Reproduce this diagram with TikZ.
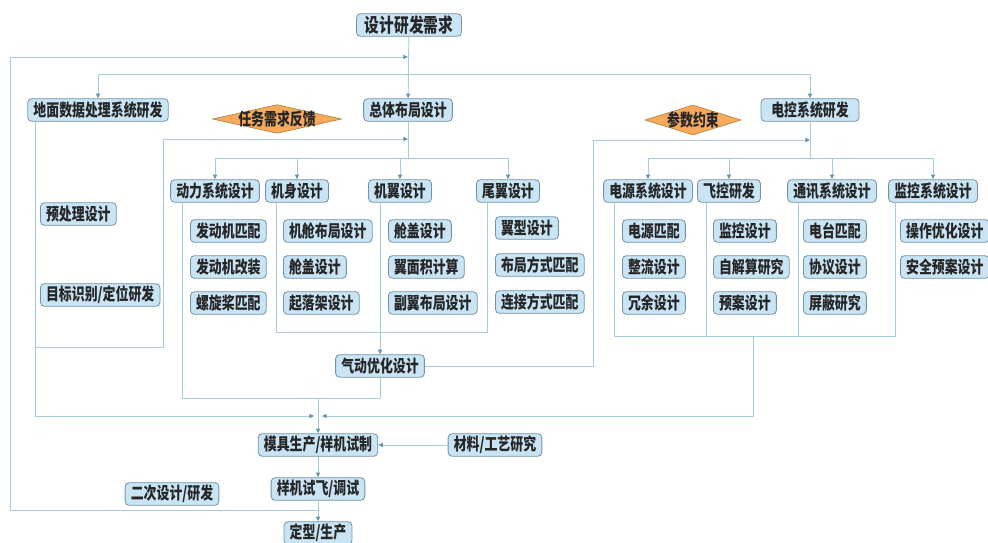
\documentclass[tikz,border=0pt]{standalone}
\usepackage{fontspec}
\setmainfont{Noto Sans CJK SC}[FakeStretch=0.76]
\usetikzlibrary{arrows.meta,shapes.geometric,calc}
\definecolor{boxfill}{HTML}{C9E5F5}
\definecolor{boxline}{HTML}{7393A7}
\definecolor{wirec}{HTML}{A7CCDA}
\definecolor{tipc}{HTML}{5E97B0}
\definecolor{diafill}{HTML}{F7A95C}
\definecolor{dialine}{HTML}{B9853F}
\tikzset{
  box/.style={draw=boxline, fill=boxfill, rounded corners=3.5pt, line width=0.7pt,
    minimum height=0.68cm, inner xsep=0.17cm, inner ysep=0pt,
    font=\fontsize{14.5}{16}\selectfont\bfseries, text=black!85},
  diam/.style={diamond, draw=dialine, fill=diafill, line width=0.6pt, inner sep=0pt},
  lbl/.style={font=\fontsize{14.5}{16}\selectfont\bfseries, text=black!85},
  wire/.style={draw=wirec, line width=0.8pt},
  arr/.style={wire, -{Triangle[length=4pt,width=3.5pt,color=tipc]}}
}
\begin{document}
\begin{tikzpicture}[x=0.03cm,y=-0.03cm]
  \useasboundingbox (0,0) rectangle (988,543);
  \node[box,minimum width=3.15cm,font=\fontsize{16.5}{18}\selectfont\bfseries] (need) at (409,25) {设计研发需求};
  \node[box] (zong) at (408,110) {总体布局设计};
  \node[box] (dimian) at (98,110) {地面数据处理系统研发};
  \node[box,minimum width=2.94cm] (dianko) at (810,110) {电控系统研发};
  \node[diam,minimum width=3.87cm,minimum height=0.86cm,label={[lbl]center:任务需求反馈}] (fankui) at (277,119) {};
  \node[diam,minimum width=2.88cm,minimum height=0.9cm,label={[lbl]center:参数约束}] (yueshu) at (693,120) {};
  \node[box,anchor=west] (yuchuli) at (40,214) {预处理设计};
  \node[box,anchor=west] (mubiao) at (40,295) {目标识别/定位研发};
  \node[box] (dongli) at (215,191) {动力系统设计};
  \node[box] (jishen) at (297,191) {机身设计};
  \node[box] (jiyi) at (400,191) {机翼设计};
  \node[box] (weiyi) at (508,191) {尾翼设计};
  \node[box] (dianyuan) at (648,191) {电源系统设计};
  \node[box] (feikong) at (729,191) {飞控研发};
  \node[box] (tongxun) at (832,191) {通讯系统设计};
  \node[box] (jiankong) at (933,191) {监控系统设计};
  \foreach \t/\y [count=\i] in {发动机匹配/231,发动机改装/267,螺旋桨匹配/303}
    \node[box,anchor=west] (dl\i) at (190,\y) {\t};
  \foreach \t/\y [count=\i] in {机舱布局设计/231,舱盖设计/267,起落架设计/303}
    \node[box,anchor=west] (js\i) at (283,\y) {\t};
  \foreach \t/\y [count=\i] in {舱盖设计/231,翼面积计算/267,副翼布局设计/303}
    \node[box,anchor=west] (jy\i) at (388,\y) {\t};
  \foreach \t/\y [count=\i] in {翼型设计/228,布局方式匹配/265,连接方式匹配/302}
    \node[box,anchor=west] (wy\i) at (495,\y) {\t};
  \foreach \t/\y [count=\i] in {电源匹配/231,整流设计/267,冗余设计/303}
    \node[box,anchor=west] (dy\i) at (622,\y) {\t};
  \foreach \t/\y [count=\i] in {监控设计/231,自解算研究/267,预案设计/303}
    \node[box,anchor=west] (fk\i) at (713,\y) {\t};
  \foreach \t/\y [count=\i] in {电台匹配/231,协议设计/267,屏蔽研究/303}
    \node[box,anchor=west] (tx\i) at (803,\y) {\t};
  \foreach \t/\y [count=\i] in {操作优化设计/231,安全预案设计/267}
    \node[box,anchor=west] (jk\i) at (900,\y) {\t};
  \node[box] (qidong) at (380,366) {气动优化设计};
  \node[box] (muju) at (318,445) {模具生产/样机试制};
  \node[box] (cailiao) at (495,445) {材料/工艺研究};
  \node[box] (shifei) at (318,489) {样机试飞/调试};
  \node[box] (dingxing) at (318,533) {定型/生产};
  \node[box] (erci) at (172,494) {二次设计/研发};

  \coordinate (t57) at (408,57);
  \coordinate (t74) at (408,74);
  \coordinate (t139) at (408,139);
  \coordinate (zb) at (408,158);
  \coordinate (fb0) at (318,510);
  \coordinate (fbL) at (10,510);
  \coordinate (x35) at (35,0);
  \coordinate (g347) at (35,347);
  \coordinate (g163) at (163,139);
  \coordinate (mL) at (314,416);
  \coordinate (mR) at (322,416);
  \coordinate (jc) at (318,398);
  \coordinate (x182) at (182,0);
  \coordinate (x276) at (276,0);
  \coordinate (b332) at (487,332);
  \coordinate (x614) at (614,0);
  \coordinate (x706) at (706,0);
  \coordinate (x798) at (798,0);
  \coordinate (r895) at (895,336);
  \coordinate (r753) at (753,336);
  \coordinate (p593) at (593,140);

  \draw[arr] (need) -- (zong);
  \draw[wire] (zong.south) -- (zb);
  \draw[arr] (t74) -| (dimian.north);
  \draw[arr] (t74) -| (dianko.north);
  \draw[arr] (fb0) -- (fbL) |- (t57);
  \draw[arr] (dimian.south -| x35) |- (mL);
  \draw[arr] (g347) -| (g163) -- (t139);
  \foreach \n in {dongli,jishen,jiyi,weiyi}
    \draw[arr] (zb) -| (\n.north);
  \draw[wire] (dongli.south -| x182) |- (qidong.south |- jc);
  \draw[wire] (qidong.south) -- (qidong.south |- jc);
  \draw[arr] (jc) -- (muju.north);
  \draw[wire] (jishen.south -| x276) |- (b332) -- (weiyi.south -| b332);
  \draw[arr] (qidong.north |- jiyi.south) -- (qidong.north);
  \draw[wire] (dianko.south) -- (dianko.south |- zb);
  \foreach \n in {dianyuan,feikong,tongxun,jiankong}
    \draw[arr] (dianko.south |- zb) -| (\n.north);
  \draw[wire] (dianyuan.south -| x614) |- (r895) -- (jiankong.south -| r895);
  \draw[wire] (feikong.south -| x706) -- (x706 |- r895);
  \draw[wire] (tongxun.south -| x798) -- (x798 |- r895);
  \draw[arr] (r753) |- (mR);
  \draw[arr] (qidong.east) -| (p593) -- (p593 -| dianko.south);
  \draw[arr] (cailiao) -- (muju);
  \draw[arr] (muju) -- (shifei);
  \draw[arr] (shifei) -- (dingxing);
\end{tikzpicture}
\end{document}
